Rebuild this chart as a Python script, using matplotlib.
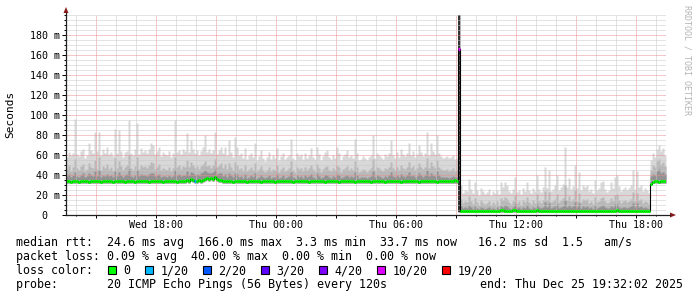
import numpy as np
import matplotlib
matplotlib.use('Agg')
import matplotlib.pyplot as plt
import matplotlib.dates as mdates
import matplotlib.ticker as mticker
from matplotlib.patches import Rectangle, Polygon
from matplotlib.lines import Line2D

plt.rcParams['font.family'] = 'DejaVu Sans Mono'

# one sample every 6 minutes, starting Wed 2025-12-24 13:30
start = np.datetime64('2025-12-24T13:30')
step_minutes = 6

# median rtt (ms)
rtt_median = [
    34, 34, 33, 34, 34, 34, 33, 34, 34, 34, 34, 33, 34, 34, 34, 34, 34, 33, 34, 34,
    34, 34, 34, 33, 34, 34, 34, 34, 34, 33, 34, 34, 34, 34, 33, 34, 34, 34, 34, 34,
    34, 33, 34, 34, 34, 34, 34, 34, 33, 34, 34, 34, 34, 34, 34, 33, 34, 34, 34, 34,
    35, 34, 36, 35, 34, 34, 35, 34, 35, 36, 37, 36, 37, 36, 38, 36, 35, 35, 34, 34,
    34, 34, 34, 33, 34, 34, 34, 34, 34, 34, 33, 34, 34, 34, 34, 34, 34, 33, 34, 34,
    34, 34, 34, 34, 33, 34, 34, 34, 34, 34, 34, 34, 34, 33, 34, 34, 34, 34, 34, 34,
    34, 33, 34, 34, 34, 34, 34, 34, 34, 33, 34, 34, 34, 34, 34, 34, 33, 34, 34, 34,
    34, 34, 34, 34, 33, 34, 34, 34, 34, 34, 34, 34, 33, 34, 34, 34, 34, 34, 34, 33,
    34, 34, 34, 34, 34, 34, 34, 33, 34, 34, 34, 34, 34, 34, 34, 34, 33, 34, 34, 34,
    34, 34, 34, 34, 34, 33, 34, 34, 34, 34, 34, 34, 34, 34, 35, 34,
    166,
    4, 4, 4,
    4, 4, 4, 4, 4, 4, 4, 4, 4, 4,
    4, 4, 4, 4, 4, 4, 4, 5, 5, 4,
    4, 4, 4, 5, 5, 4, 4, 4, 4, 4,
    4, 4, 4, 4, 4, 5, 4, 4, 4, 4,
    4, 4, 4, 4, 4, 4, 4, 4, 4, 4,
    4, 4, 4, 4, 4, 4, 4, 4, 4, 4,
    4, 4, 4, 4, 4, 4, 4, 4, 4, 4,
    4, 4, 4, 4, 4, 5, 4, 4, 4, 4,
    4, 4, 4, 4, 4, 4, 4, 4, 4, 4,
    4, 4,
    31, 33, 34, 34, 33, 34, 34, 34,
]

# lowest ping of each round (ms)
smoke_min = [
    32, 32, 32, 32, 32, 32, 32, 32, 32, 32, 32, 32, 32, 32, 32, 32, 32, 32, 32, 32,
    32, 32, 32, 32, 32, 32, 32, 32, 32, 32, 32, 32, 32, 32, 32, 32, 32, 32, 32, 32,
    32, 32, 32, 32, 32, 32, 32, 32, 32, 32, 32, 32, 32, 32, 32, 32, 32, 32, 32, 32,
    33, 32, 34, 33, 32, 32, 33, 32, 33, 34, 35, 34, 35, 34, 36, 34, 33, 33, 32, 32,
    32, 32, 32, 32, 32, 32, 32, 32, 32, 32, 32, 32, 32, 32, 32, 32, 32, 32, 32, 32,
    32, 32, 32, 32, 32, 32, 32, 32, 32, 32, 32, 32, 32, 32, 32, 32, 32, 32, 32, 32,
    32, 32, 32, 32, 32, 32, 32, 32, 32, 32, 32, 32, 32, 32, 32, 32, 32, 32, 32, 32,
    32, 32, 32, 32, 32, 32, 32, 32, 32, 32, 32, 32, 32, 32, 32, 32, 32, 32, 32, 32,
    32, 32, 32, 32, 32, 32, 32, 32, 32, 32, 32, 32, 32, 32, 32, 32, 32, 32, 32, 32,
    32, 32, 32, 32, 32, 32, 32, 32, 32, 32, 32, 32, 32, 32, 32, 32,
    3,
    3, 3, 3,
    3, 3, 3, 3, 3, 3, 3, 3, 3, 3,
    3, 3, 3, 3, 3, 3, 3, 3, 3, 3,
    3, 3, 3, 3, 3, 3, 3, 3, 3, 3,
    3, 3, 3, 3, 3, 3, 3, 3, 3, 3,
    3, 3, 3, 3, 3, 3, 3, 3, 3, 3,
    3, 3, 3, 3, 3, 3, 3, 3, 3, 3,
    3, 3, 3, 3, 3, 3, 3, 3, 3, 3,
    3, 3, 3, 3, 3, 3, 3, 3, 3, 3,
    3, 3, 3, 3, 3, 3, 3, 3, 3, 3,
    3, 3,
    30, 32, 32, 32, 32, 32, 32, 32,
]

# darker smoke (around 60th percentile)
smoke_dark = [
    39, 41, 38, 40, 43, 39, 38, 40, 42, 38, 39, 42, 40, 39, 44, 39, 45, 38, 40, 39,
    41, 39, 40, 38, 44, 39, 43, 40, 38, 40, 41, 46, 39, 38, 40, 45, 39, 41, 40, 40,
    39, 41, 42, 42, 39, 40, 41, 38, 39, 39, 38, 40, 38, 39, 45, 40, 41, 39, 40, 40,
    44, 40, 43, 42, 40, 41, 40, 42, 43, 45, 43, 42, 42, 43, 46, 41, 42, 42, 39, 41,
    38, 42, 40, 38, 42, 41, 38, 39, 37, 41, 37, 38, 40, 38, 42, 37, 38, 40, 38, 37,
    38, 40, 37, 38, 38, 41, 37, 38, 40, 37, 38, 39, 43, 38, 37, 40, 38, 39, 37, 40,
    38, 39, 41, 38, 37, 42, 39, 37, 38, 40, 40, 38, 37, 39, 38, 41, 40, 37, 38, 39,
    40, 38, 39, 38, 43, 40, 37, 38, 38, 38, 37, 38, 39, 44, 38, 40, 39, 38, 37, 39,
    38, 40, 43, 39, 38, 40, 38, 41, 39, 38, 40, 43, 39, 40, 38, 39, 42, 40, 38, 40,
    45, 39, 42, 40, 39, 44, 40, 38, 38, 38, 38, 37, 38, 39, 38, 38,
    250,
    9, 7, 8,
    7, 10, 8, 6, 9, 7, 6, 8, 7, 6,
    7, 8, 6, 7, 6, 8, 6, 9, 8, 10,
    9, 7, 6, 8, 11, 7, 8, 6, 8, 7,
    10, 7, 6, 8, 7, 11, 8, 7, 8, 13,
    8, 12, 7, 8, 9, 11, 7, 8, 9, 15,
    8, 10, 8, 9, 13, 8, 12, 7, 9, 8,
    9, 7, 8, 6, 10, 7, 8, 9, 10, 8,
    7, 7, 9, 8, 11, 11, 8, 7, 8, 8,
    7, 8, 9, 12, 8, 12, 8, 9, 7, 8,
    7, 6,
    39, 41, 40, 44, 46, 42, 43, 41,
]

# middle smoke (around 75th percentile)
smoke_mid = [
    46, 50, 44, 48, 56, 47, 45, 49, 51, 44, 46, 52, 48, 47, 55, 46, 58, 45, 49, 47,
    51, 46, 48, 44, 57, 47, 54, 49, 45, 48, 50, 60, 47, 45, 49, 58, 46, 50, 48, 49,
    47, 50, 53, 52, 46, 48, 51, 45, 47, 46, 45, 48, 44, 47, 58, 48, 50, 46, 49, 48,
    55, 48, 53, 50, 47, 49, 46, 49, 51, 54, 49, 50, 47, 50, 56, 48, 50, 52, 47, 51,
    46, 52, 48, 45, 53, 50, 46, 47, 44, 50, 44, 46, 48, 45, 52, 44, 46, 49, 45, 43,
    45, 48, 44, 46, 45, 50, 43, 46, 48, 44, 45, 47, 54, 45, 43, 48, 46, 47, 44, 48,
    45, 47, 50, 46, 44, 51, 47, 43, 46, 48, 49, 45, 44, 47, 45, 50, 48, 43, 46, 47,
    49, 45, 47, 45, 54, 48, 43, 44, 46, 45, 43, 45, 47, 56, 45, 48, 47, 45, 44, 47,
    46, 48, 53, 47, 45, 48, 45, 50, 47, 46, 48, 53, 47, 49, 45, 47, 52, 48, 46, 48,
    57, 47, 53, 49, 47, 55, 48, 46, 45, 45, 46, 44, 45, 47, 44, 45,
    250,
    16, 12, 14,
    13, 19, 14, 11, 17, 13, 10, 15, 12, 11,
    12, 14, 10, 13, 11, 14, 10, 17, 15, 18,
    16, 13, 11, 14, 20, 12, 14, 10, 15, 13,
    18, 13, 11, 15, 12, 21, 14, 12, 15, 24,
    15, 23, 13, 14, 16, 21, 13, 15, 17, 30,
    15, 19, 14, 16, 25, 14, 22, 13, 16, 15,
    16, 12, 14, 11, 18, 13, 14, 17, 18, 14,
    12, 13, 17, 14, 20, 21, 15, 12, 14, 15,
    13, 14, 16, 23, 14, 22, 15, 16, 12, 14,
    13, 11,
    45, 50, 48, 54, 56, 51, 53, 49,
]

# highest ping of each round (ms)
smoke_max = [
    58, 63, 60, 62, 96, 61, 59, 64, 66, 57,
    60, 72, 65, 62, 83, 64, 83, 60, 66, 62,
    68, 61, 63, 59, 86, 62, 85, 64, 58, 63,
    64, 95, 62, 60, 66, 92, 61, 67, 63, 65,
    62, 66, 72, 70, 61, 64, 68, 59, 63, 61,
    60, 64, 58, 62, 95, 63, 65, 61, 66, 64,
    82, 63, 75, 66, 62, 65, 60, 64, 68, 80,
    63, 66, 62, 65, 83, 61, 65, 68, 62, 68,
    60, 75, 63, 58, 78, 68, 60, 62, 57, 67,
    56, 60, 62, 58, 72, 55, 59, 65, 57, 54,
    58, 63, 56, 60, 57, 67, 55, 59, 62, 56,
    58, 60, 76, 57, 55, 62, 59, 61, 56, 62,
    57, 60, 67, 58, 56, 68, 61, 55, 59, 63,
    65, 58, 56, 60, 57, 68, 62, 55, 59, 61,
    65, 58, 60, 57, 76, 62, 55, 56, 59, 57,
    55, 58, 60, 80, 57, 62, 60, 58, 56, 61,
    59, 62, 75, 60, 57, 63, 58, 66, 61, 59,
    62, 72, 60, 64, 58, 61, 70, 63, 59, 62,
    83, 60, 72, 64, 61, 80, 62, 59, 57, 58,
    59, 57, 58, 60, 56, 57,
    250,
    30, 22, 25,
    24, 36, 26, 22, 33, 25, 20, 27, 24, 21,
    23, 26, 20, 24, 22, 25, 21, 33, 28, 33,
    30, 24, 22, 26, 38, 23, 25, 21, 27, 24,
    33, 25, 22, 27, 24, 40, 26, 23, 28, 48,
    27, 45, 24, 26, 30, 40, 25, 28, 31, 68,
    28, 37, 26, 29, 50, 27, 43, 25, 30, 28,
    30, 24, 26, 22, 35, 25, 27, 33, 34, 26,
    23, 25, 33, 27, 38, 40, 29, 24, 26, 28,
    25, 27, 30, 45, 26, 44, 28, 30, 24, 27,
    25, 22,
    55, 62, 58, 66, 70, 64, 67, 60,
]

# samples with packet loss (index, lost pings out of 20)
loss_index = [64, 196]
loss_count = [1, 10]

loss_levels = ['0', '1/20', '2/20', '3/20', '4/20', '10/20', '19/20']
loss_values = [0, 1, 2, 3, 4, 10, 19]
loss_colors = ['#00ff00', '#00b8ff', '#0059ff', '#5e00ff', '#7e00ff', '#dd00ff', '#ff0000']

y_ticks = [0, 20, 40, 60, 80, 100, 120, 140, 160, 180]

stats_rtt = 'median rtt:  24.6 ms avg  166.0 ms max  3.3 ms min  33.7 ms now   16.2 ms sd  1.5   am/s'
stats_loss = 'packet loss: 0.09 % avg  40.00 % max  0.00 % min  0.00 % now'
probe_text = 'probe:       20 ICMP Echo Pings (56 Bytes) every 120s'
end_text = 'end: Thu Dec 25 19:32:02 2025'

W, H = 697, 297


def fx(x):
    return x / W


def fy(y):
    return 1 - y / H


n = len(rtt_median)
edges = start + np.arange(n + 1) * np.timedelta64(step_minutes, 'm')
xe = mdates.date2num(edges)


def stepped(v):
    v = np.asarray(v, dtype=float)
    return np.append(v, v[-1])


fig = plt.figure(figsize=(W / 100, H / 100), dpi=100)
ax = fig.add_axes([fx(66), fy(215), 600 / W, 200 / H])

# smoke
ax.fill_between(xe, stepped(smoke_min), stepped(smoke_max), step='post', color='#d8d8d8', lw=0, zorder=1)
ax.fill_between(xe, stepped(smoke_min), stepped(smoke_mid), step='post', color='#b8b8b8', lw=0, zorder=1.1)
ax.fill_between(xe, stepped(smoke_min), stepped(smoke_dark), step='post', color='#929292', lw=0, zorder=1.2)
# the loss spike shows up almost black
for i in np.flatnonzero(np.array(rtt_median) > 100):
    ax.fill_between(xe[i:i + 2], smoke_min[i], smoke_max[i], color='#333333', lw=0, zorder=1.3)

# median line, coloured by loss
ax.step(xe, stepped(rtt_median), where='post', color='black', lw=0.8, zorder=3)
loss = np.zeros(n, dtype=int)
loss[loss_index] = loss_count
cmap = dict(zip(loss_values, loss_colors))
ax.hlines(rtt_median, xe[:-1], xe[1:], colors=[cmap[k] for k in loss],
          linewidth=2.2, zorder=4, capstyle='butt')

ax.set_xlim(xe[0], xe[-1])
ax.set_ylim(0, 200)

# grid
ax.set_axisbelow(False)
ax.xaxis.set_major_locator(mdates.HourLocator(byhour=range(0, 24, 3)))
ax.xaxis.set_minor_locator(mdates.HourLocator())


def xfmt(v, pos):
    d = mdates.num2date(v)
    return d.strftime('%a %H:%M') if d.hour % 6 == 0 else ''


ax.xaxis.set_major_formatter(mticker.FuncFormatter(xfmt))
ax.yaxis.set_major_locator(mticker.FixedLocator(y_ticks))
ax.yaxis.set_minor_locator(mticker.MultipleLocator(5))
ax.yaxis.set_major_formatter(mticker.FuncFormatter(lambda v, p: f'{v:.0f} m' if v > 0 else '0  '))
ax.grid(which='minor', color='#c8c8c8', lw=0.72, ls=(0, (1, 1)))
ax.grid(which='major', color='#e89090', lw=0.72, ls=(0, (1, 1)))

for s in ax.spines.values():
    s.set_visible(False)
ax.tick_params(which='both', direction='out', width=0.72, colors='black', labelsize=7.2)
ax.tick_params(axis='y', which='major', length=2.9, pad=1.5)
ax.tick_params(axis='y', which='minor', length=1.4)
ax.tick_params(axis='x', which='major', length=2, pad=1.5)
ax.tick_params(axis='x', which='minor', length=1)

# axis lines with arrows
arrow_col = '#8b1a1a'
fig.add_artist(Line2D([fx(66), fx(670)], [fy(215), fy(215)], color='#202020', lw=0.9))
fig.add_artist(Line2D([fx(66), fx(66)], [fy(215), fy(13)], color='#202020', lw=0.9))
fig.add_artist(Polygon([(fx(670), fy(212.5)), (fx(676), fy(215)), (fx(670), fy(217.5))],
                       closed=True, transform=fig.transFigure, color=arrow_col, lw=0))
fig.add_artist(Polygon([(fx(63.5), fy(13)), (fx(66), fy(7)), (fx(68.5), fy(13))],
                       closed=True, transform=fig.transFigure, color=arrow_col, lw=0))

fig.text(fx(10), fy(114), 'Seconds', rotation=90, fontsize=8, ha='center', va='center')
fig.text(fx(686.5), fy(60), 'RRDTOOL / TOBI OETIKER', rotation=270, fontsize=6,
         color='#b4b4b4', ha='center', va='center')

# legend block
fs = 8.37
cw = 7.0
fig.text(fx(16), fy(246), stats_rtt, fontsize=fs, va='baseline')
fig.text(fx(16), fy(260), stats_loss, fontsize=fs, va='baseline')
fig.text(fx(16), fy(274), 'loss color:', fontsize=fs, va='baseline')
bx = 108.3
for lab, col in zip(loss_levels, loss_colors):
    fig.add_artist(Rectangle((fx(bx), fy(273.5)), 8 / W, 8 / H, transform=fig.transFigure,
                             facecolor=col, edgecolor='black', lw=0.8))
    fig.text(fx(bx + 15), fy(274), lab, fontsize=fs, va='baseline')
    bx = bx + 15 + len(lab) * cw + 15
fig.text(fx(16), fy(288), probe_text, fontsize=fs, va='baseline')
fig.text(fx(683.5), fy(288), end_text, fontsize=fs, va='baseline', ha='right')

fig.savefig('out.png', dpi=100, facecolor='white')
